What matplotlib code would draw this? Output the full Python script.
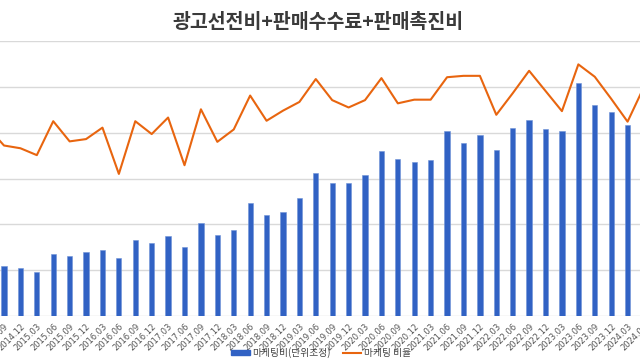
"""Marketing spend (bars) vs marketing ratio (line), quarterly."""

import numpy as np
import matplotlib
matplotlib.use("Agg")
import matplotlib.pyplot as plt
from matplotlib.patches import Patch
from matplotlib.lines import Line2D

plt.rcParams["font.family"] = ["Noto Sans CJK KR", "DejaVu Sans"]

TITLE = "광고선전비+판매수수료+판매촉진비"
BAR_LABEL = "마케팅비(단위조정)"
LINE_LABEL = "마케팅 비율"

quarters = [
    "2014.06", "2014.09", "2014.12",
    "2015.03", "2015.06", "2015.09", "2015.12",
    "2016.03", "2016.06", "2016.09", "2016.12",
    "2017.03", "2017.06", "2017.09", "2017.12",
    "2018.03", "2018.06", "2018.09", "2018.12",
    "2019.03", "2019.06", "2019.09", "2019.12",
    "2020.03", "2020.06", "2020.09", "2020.12",
    "2021.03", "2021.06", "2021.09", "2021.12",
    "2022.03", "2022.06", "2022.09", "2022.12",
    "2023.03", "2023.06", "2023.09", "2023.12",
    "2024.03", "2024.06",
]

# bars for the first and last quarter fall outside the cropped view
marketing = [
    np.nan, 11.0, 10.5,
    9.6, 13.5, 13.2, 14.0,
    14.3, 12.6, 16.6, 15.9,
    17.5, 15.1, 20.3, 17.6,
    18.8, 24.7, 22.0, 22.7,
    25.7, 31.3, 29.0, 29.0,
    30.8, 36.0, 34.3, 33.5,
    34.0, 40.4, 37.8, 39.4,
    36.2, 41.0, 42.8, 40.8,
    40.4, 50.8, 46.0, 44.5,
    41.7, np.nan,
]

ratio = [
    4.12, 3.72, 3.66,
    3.51, 4.25, 3.81, 3.86,
    4.11, 3.10, 4.25, 3.97,
    4.33, 3.29, 4.51, 3.80,
    4.07, 4.81, 4.26, 4.48,
    4.67, 5.17, 4.71, 4.55,
    4.71, 5.19, 4.64, 4.72,
    4.72, 5.21, 5.24, 5.24,
    4.39, 4.86, 5.35, 4.91,
    4.47, 5.49, 5.22, 4.74,
    4.24, 5.00,
]

BLUE = "#3162c4"
ORANGE = "#e8650f"
GRID = "#d9d9d9"

x = np.arange(len(quarters))

fig = plt.figure(figsize=(6.4, 3.6), dpi=100)
# axes run past both figure edges so the chart looks cropped like the source
ax = fig.add_axes([-0.03125, 0.1222, 1.0625, 0.7639])

ax.set_ylim(0, 60)
ax.set_yticks(np.arange(0, 61, 10))
ax.yaxis.grid(True, color=GRID, lw=1)
ax.set_axisbelow(True)
ax.tick_params(axis="y", length=0, labelleft=False)

ax.bar(x, marketing, width=0.32, color=BLUE, edgecolor="#6f93d8", lw=0.4, zorder=2)

ax.set_xticks(x)
ax.set_xticklabels(quarters, rotation=45, ha="right", rotation_mode="anchor",
                   fontsize=6, color="#555555", family="DejaVu Sans")
ax.tick_params(axis="x", length=0, pad=4)
for s in ax.spines.values():
    s.set_visible(False)

ax2 = ax.twinx()
ax2.set_ylim(0, 6)
ax2.plot(x, ratio, color=ORANGE, lw=1.5, zorder=3)
ax2.set_yticks([])
for s in ax2.spines.values():
    s.set_visible(False)

ax.set_xlim(-0.4625, 40.976)

fig.text(0.497, 0.938, TITLE, ha="center", va="center", fontsize=14,
         fontweight="bold", color="#3a3a3a")

handles = [
    Patch(facecolor=BLUE, edgecolor=BLUE),
    Line2D([0], [0], color=ORANGE, lw=1.5),
]
fig.legend(handles, [BAR_LABEL, LINE_LABEL], loc="center",
           bbox_to_anchor=(0.502, 0.02), ncol=2, frameon=False,
           fontsize=7, handlelength=1.9, handleheight=0.5,
           handletextpad=0.3, columnspacing=1.2, labelcolor="#444444")

fig.savefig("out.png", dpi=100)
